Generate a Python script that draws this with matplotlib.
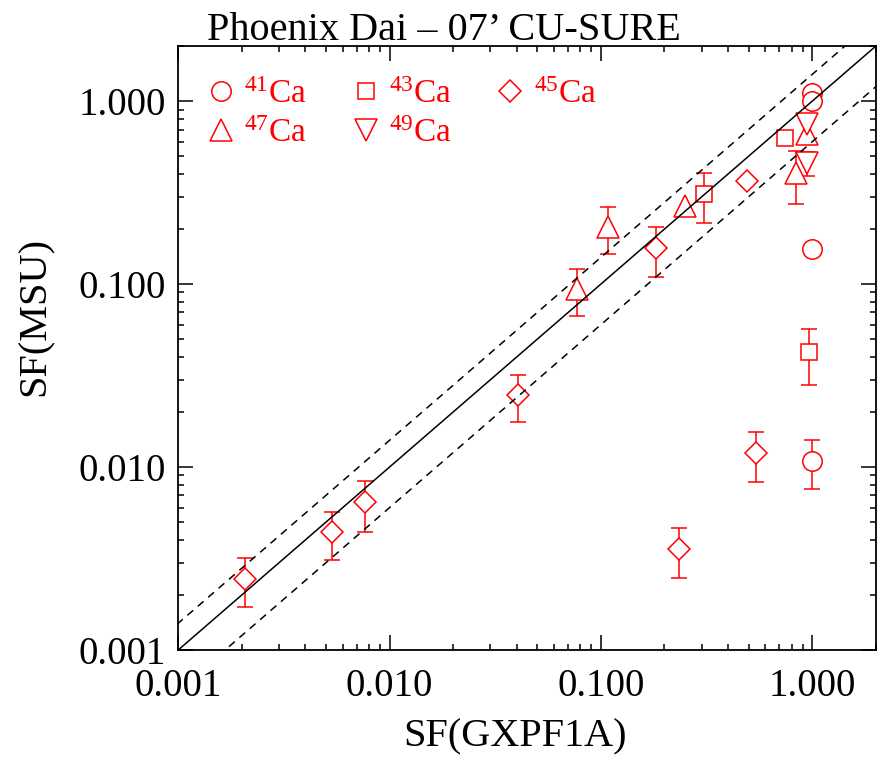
import numpy as np
import matplotlib
matplotlib.use('Agg')
import matplotlib.pyplot as plt
from matplotlib.lines import Line2D
from matplotlib.ticker import LogLocator, FuncFormatter, NullFormatter

# spectroscopic factors, GXPF1A vs MSU
ca41_x = [1.0, 1.0, 1.0, 1.0]
ca41_y = [1.11, 1.0, 0.155, 0.0108]
ca41_err = [0, 0, 0, 0.0032]

ca43_x = [0.746, 0.309, 0.97]
ca43_y = [0.628, 0.310, 0.0425]
ca43_err = [0, 0.093, 0.0145]

ca45_x = [0.00207, 0.00533, 0.00763, 0.0404, 0.183, 0.494, 0.235, 0.545]
ca45_y = [0.00245, 0.00441, 0.00644, 0.0247, 0.157, 0.365, 0.00356, 0.0119]
ca45_err = [0.00073, 0.0013, 0.002, 0.007, 0.047, 0, 0.0011, 0.0036]

ca47_x = [0.0768, 0.108, 0.249, 0.842, 0.94]
ca47_y = [0.094, 0.205, 0.267, 0.404, 0.66]
ca47_err = [0.027, 0.059, 0, 0.13, 0]

ca49_x = [0.95, 0.95]
ca49_y = [0.748, 0.458]
ca49_err = [0, 0.07]

isotopes = ['41', '43', '45', '47', '49']
markers = ['o', 's', 'D', '^', 'v']
msizes = [14, 11.5, 11, 16, 16]
upper, lower = 1.4, 0.6  # dashed band: +-40%

serif = 'Liberation Serif'
plt.rcParams['mathtext.fontset'] = 'custom'
plt.rcParams['mathtext.rm'] = serif
plt.rcParams['mathtext.it'] = serif

fig = plt.figure(figsize=(8.78, 7.62), dpi=100)
ax = fig.add_axes([0.203, 0.147, 0.7945, 0.7925])

ax.set_xscale('log')
ax.set_yscale('log')
ax.set_xlim(0.001, 2.0)
ax.set_ylim(0.001, 2.0)

xx = np.array([0.0005, 5.0])
ax.plot(xx, xx, color='black', lw=1.1, zorder=4)
ax.plot(xx, xx * upper, color='black', lw=1.1, ls=(0, (5, 4)), zorder=4)
ax.plot(xx, xx * lower, color='black', lw=1.1, ls=(0, (5, 4)), zorder=4)

data = [(ca41_x, ca41_y, ca41_err), (ca43_x, ca43_y, ca43_err),
        (ca45_x, ca45_y, ca45_err), (ca47_x, ca47_y, ca47_err),
        (ca49_x, ca49_y, ca49_err)]

handles = []
for (x, y, e), m, ms, iso in zip(data, markers, msizes, isotopes):
    x = np.array(x)
    y = np.array(y)
    e = np.array(e)
    has = e > 0
    if has.any():
        ax.errorbar(x[has], y[has], yerr=e[has], fmt='none', ecolor='red',
                    elinewidth=1.1, capsize=6, capthick=1.1, zorder=2)
    ax.plot(x, y, ls='none', marker=m, ms=ms, mfc='white', mec='red',
            mew=1.1, zorder=3)
    handles.append(Line2D([], [], ls='none', marker=m, ms=ms, mfc='none',
                          mec='red', mew=1.1, label=r'$^{%s}$Ca' % iso))

# row-major order for a 3-column legend
order = [0, 3, 1, 4, 2]
leg = ax.legend([handles[i] for i in order], [handles[i].get_label() for i in order],
                ncol=3, loc='upper left', bbox_to_anchor=(0.04, 0.945),
                frameon=False, prop={'family': serif, 'size': 24},
                handlelength=0.9, handletextpad=0.25, columnspacing=1.3,
                labelspacing=0.25, borderpad=0, borderaxespad=0)
for t in leg.get_texts():
    t.set_color('red')

ax.xaxis.set_major_locator(LogLocator(base=10, numticks=10))
ax.yaxis.set_major_locator(LogLocator(base=10, numticks=10))
ax.xaxis.set_minor_locator(LogLocator(base=10, subs=np.arange(2, 10), numticks=20))
ax.yaxis.set_minor_locator(LogLocator(base=10, subs=np.arange(2, 10), numticks=20))
fmt = FuncFormatter(lambda v, p: '%.3f' % v)
ax.xaxis.set_major_formatter(fmt)
ax.yaxis.set_major_formatter(fmt)
ax.xaxis.set_minor_formatter(NullFormatter())
ax.yaxis.set_minor_formatter(NullFormatter())

ax.tick_params(which='both', direction='in', top=True, right=True, width=1.1)
ax.tick_params(which='major', length=11)
ax.tick_params(which='minor', length=4)
ax.tick_params(axis='x', pad=13)
ax.tick_params(axis='y', pad=9)
for lab in ax.get_xticklabels() + ax.get_yticklabels():
    lab.set_fontfamily(serif)
    lab.set_fontsize(28)
for s in ax.spines.values():
    s.set_linewidth(1.3)

fig.text(0.586, 0.033, 'SF(GXPF1A)', family=serif, size=29, ha='center', va='center')
fig.text(0.040, 0.585, 'SF(MSU)', family=serif, size=29, ha='center', va='center',
         rotation=90)
fig.text(0.506, 0.9475, 'Phoenix Dai \u2013 07\u2019 CU-SURE', family=serif,
         size=29, ha='center', va='baseline')

fig.savefig('out.png', dpi=100)
